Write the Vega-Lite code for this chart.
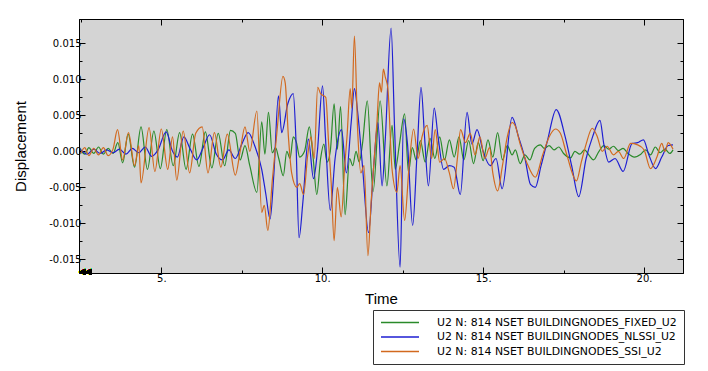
{
  "$schema": "https://vega.github.io/schema/vega-lite/v6.json",
  "width": 604,
  "height": 254,
  "autosize": {"type": "none"},
  "padding": {"left": 79, "top": 19, "right": 25, "bottom": 98},
  "background": "white",
  "config": {
    "view": {"fill": "#d4d4d4", "stroke": "black", "strokeWidth": 1},
    "axis": {
      "domainColor": "black", "tickColor": "black", "tickWidth": 1, "grid": false,
      "labelFont": "DejaVu Sans", "labelFontSize": 10, "labelColor": "black",
      "titleFont": "Liberation Sans", "titleFontSize": 15, "titleFontWeight": "normal", "titleColor": "black",
      "labelFlush": false, "labelOverlap": false
    }
  },
  "data": {"values": [
{"s":"F","t":2.5,"v":0.0002},{"s":"F","t":2.62,"v":-0.0004},{"s":"F","t":2.75,"v":0.0005},{"s":"F","t":2.9,"v":-0.0003},{"s":"F","t":3.05,"v":0.0006},{"s":"F","t":3.2,"v":-0.0004},{"s":"F","t":3.35,"v":0.0004},{"s":"F","t":3.5,"v":-0.0003},{"s":"F","t":3.65,"v":0.0012},{"s":"F","t":3.8,"v":-0.0016},{"s":"F","t":3.97,"v":0.0024},{"s":"F","t":4.17,"v":-0.0022},{"s":"F","t":4.37,"v":0.0034},{"s":"F","t":4.57,"v":-0.0025},{"s":"F","t":4.77,"v":0.0028},{"s":"F","t":4.97,"v":-0.0024},{"s":"F","t":5.17,"v":0.003},{"s":"F","t":5.37,"v":-0.002},{"s":"F","t":5.57,"v":0.0026},{"s":"F","t":5.77,"v":-0.0025},{"s":"F","t":5.97,"v":0.0024},{"s":"F","t":6.17,"v":-0.0021},{"s":"F","t":6.37,"v":0.0027},{"s":"F","t":6.57,"v":-0.0023},{"s":"F","t":6.77,"v":0.0025},{"s":"F","t":6.97,"v":-0.002},{"s":"F","t":7.15,"v":0.0029},{"s":"F","t":7.3,"v":0.0025},{"s":"F","t":7.45,"v":-0.0012},{"s":"F","t":7.6,"v":0.0008},{"s":"F","t":7.75,"v":-0.002},{"s":"F","t":7.97,"v":-0.0057},{"s":"F","t":8.12,"v":0.0041},{"s":"F","t":8.22,"v":-0.0004},{"s":"F","t":8.33,"v":0.0054},{"s":"F","t":8.45,"v":-0.0002},{"s":"F","t":8.55,"v":0.0005},{"s":"F","t":8.65,"v":-0.001},{"s":"F","t":8.79,"v":-0.0034},{"s":"F","t":8.9,"v":0.0},{"s":"F","t":9.0,"v":-0.001},{"s":"F","t":9.1,"v":0.002},{"s":"F","t":9.2,"v":0.0012},{"s":"F","t":9.3,"v":-0.0008},{"s":"F","t":9.45,"v":0.0},{"s":"F","t":9.6,"v":0.0034},{"s":"F","t":9.72,"v":-0.001},{"s":"F","t":9.83,"v":-0.006},{"s":"F","t":9.95,"v":-0.001},{"s":"F","t":10.05,"v":0.001},{"s":"F","t":10.15,"v":-0.0015},{"s":"F","t":10.25,"v":0.0},{"s":"F","t":10.37,"v":0.0066},{"s":"F","t":10.47,"v":0.0003},{"s":"F","t":10.57,"v":0.0062},{"s":"F","t":10.71,"v":-0.0088},{"s":"F","t":10.85,"v":-0.001},{"s":"F","t":10.95,"v":-0.002},{"s":"F","t":11.05,"v":0.0},{"s":"F","t":11.15,"v":-0.0015},{"s":"F","t":11.25,"v":0.001},{"s":"F","t":11.4,"v":0.007},{"s":"F","t":11.58,"v":-0.0056},{"s":"F","t":11.8,"v":0.007},{"s":"F","t":12.01,"v":-0.0048},{"s":"F","t":12.17,"v":0.0036},{"s":"F","t":12.27,"v":-0.0025},{"s":"F","t":12.4,"v":0.001},{"s":"F","t":12.56,"v":0.0052},{"s":"F","t":12.68,"v":-0.0029},{"s":"F","t":12.8,"v":0.0005},{"s":"F","t":12.92,"v":-0.0012},{"s":"F","t":13.05,"v":0.0015},{"s":"F","t":13.2,"v":-0.0015},{"s":"F","t":13.35,"v":0.0018},{"s":"F","t":13.5,"v":-0.001},{"s":"F","t":13.65,"v":0.002},{"s":"F","t":13.8,"v":-0.0012},{"s":"F","t":13.95,"v":0.0016},{"s":"F","t":14.1,"v":-0.0008},{"s":"F","t":14.25,"v":0.002},{"s":"F","t":14.4,"v":-0.0012},{"s":"F","t":14.55,"v":0.0015},{"s":"F","t":14.7,"v":-0.0017},{"s":"F","t":14.85,"v":0.0012},{"s":"F","t":15.0,"v":-0.0013},{"s":"F","t":15.15,"v":0.0016},{"s":"F","t":15.3,"v":-0.0008},{"s":"F","t":15.45,"v":0.0026},{"s":"F","t":15.6,"v":-0.0012},{"s":"F","t":15.75,"v":0.0008},{"s":"F","t":15.9,"v":-0.0005},{"s":"F","t":16.0,"v":0.0002},{"s":"F","t":16.15,"v":-0.0017},{"s":"F","t":16.3,"v":-0.0005},{"s":"F","t":16.45,"v":-0.0012},{"s":"F","t":16.6,"v":0.0004},{"s":"F","t":16.78,"v":0.0009},{"s":"F","t":16.9,"v":0.0004},{"s":"F","t":17.05,"v":0.0008},{"s":"F","t":17.2,"v":0.0002},{"s":"F","t":17.35,"v":0.0006},{"s":"F","t":17.5,"v":-0.0003},{"s":"F","t":17.72,"v":-0.0009},{"s":"F","t":17.85,"v":0.0},{"s":"F","t":18.0,"v":-0.0004},{"s":"F","t":18.15,"v":0.0002},{"s":"F","t":18.3,"v":-0.0006},{"s":"F","t":18.43,"v":-0.0012},{"s":"F","t":18.6,"v":0.0},{"s":"F","t":18.75,"v":0.0008},{"s":"F","t":18.9,"v":0.0003},{"s":"F","t":19.05,"v":0.0007},{"s":"F","t":19.2,"v":0.0001},{"s":"F","t":19.35,"v":0.0004},{"s":"F","t":19.5,"v":-0.0003},{"s":"F","t":19.7,"v":-0.0008},{"s":"F","t":19.9,"v":-0.0004},{"s":"F","t":20.05,"v":0.0002},{"s":"F","t":20.2,"v":-0.0005},{"s":"F","t":20.35,"v":0.0006},{"s":"F","t":20.5,"v":-0.0002},{"s":"F","t":20.65,"v":0.0003},{"s":"F","t":20.8,"v":-0.0003},{"s":"F","t":20.9,"v":0.0002},
{"s":"N","t":2.5,"v":0.0002},{"s":"N","t":2.7,"v":-0.0004},{"s":"N","t":2.9,"v":0.0003},{"s":"N","t":3.1,"v":-0.0003},{"s":"N","t":3.3,"v":0.0002},{"s":"N","t":3.5,"v":-0.0002},{"s":"N","t":3.7,"v":0.0003},{"s":"N","t":3.9,"v":-0.0004},{"s":"N","t":4.1,"v":0.0004},{"s":"N","t":4.3,"v":-0.0002},{"s":"N","t":4.5,"v":0.0006},{"s":"N","t":4.7,"v":-0.0007},{"s":"N","t":4.9,"v":0.0002},{"s":"N","t":5.15,"v":0.0027},{"s":"N","t":5.35,"v":0.0},{"s":"N","t":5.5,"v":-0.0008},{"s":"N","t":5.7,"v":0.002},{"s":"N","t":5.9,"v":0.0003},{"s":"N","t":6.1,"v":-0.0012},{"s":"N","t":6.3,"v":0.0005},{"s":"N","t":6.5,"v":0.0023},{"s":"N","t":6.7,"v":-0.0003},{"s":"N","t":6.9,"v":-0.0012},{"s":"N","t":7.1,"v":0.0002},{"s":"N","t":7.3,"v":-0.001},{"s":"N","t":7.5,"v":0.001},{"s":"N","t":7.7,"v":0.0026},{"s":"N","t":7.9,"v":0.0008},{"s":"N","t":8.12,"v":-0.0025},{"s":"N","t":8.25,"v":-0.006},{"s":"N","t":8.38,"v":-0.0094},{"s":"N","t":8.5,"v":-0.003},{"s":"N","t":8.64,"v":0.0077},{"s":"N","t":8.74,"v":0.0026},{"s":"N","t":8.93,"v":0.0066},{"s":"N","t":9.1,"v":0.008},{"s":"N","t":9.18,"v":0.002},{"s":"N","t":9.28,"v":-0.012},{"s":"N","t":9.4,"v":-0.007},{"s":"N","t":9.57,"v":0.0017},{"s":"N","t":9.73,"v":-0.0038},{"s":"N","t":9.85,"v":0.0},{"s":"N","t":10.01,"v":0.0091},{"s":"N","t":10.1,"v":0.002},{"s":"N","t":10.25,"v":-0.0082},{"s":"N","t":10.4,"v":-0.001},{"s":"N","t":10.6,"v":0.003},{"s":"N","t":10.75,"v":-0.003},{"s":"N","t":10.9,"v":0.004},{"s":"N","t":11.0,"v":0.0087},{"s":"N","t":11.1,"v":0.0055},{"s":"N","t":11.25,"v":-0.002},{"s":"N","t":11.44,"v":-0.0113},{"s":"N","t":11.6,"v":-0.002},{"s":"N","t":11.73,"v":0.004},{"s":"N","t":11.86,"v":-0.0048},{"s":"N","t":11.96,"v":0.0017},{"s":"N","t":12.14,"v":0.0171},{"s":"N","t":12.25,"v":0.003},{"s":"N","t":12.42,"v":-0.0161},{"s":"N","t":12.53,"v":0.0045},{"s":"N","t":12.65,"v":0.001},{"s":"N","t":12.81,"v":-0.0103},{"s":"N","t":12.95,"v":0.0},{"s":"N","t":13.07,"v":0.0089},{"s":"N","t":13.18,"v":0.002},{"s":"N","t":13.3,"v":-0.0048},{"s":"N","t":13.48,"v":0.006},{"s":"N","t":13.6,"v":0.002},{"s":"N","t":13.77,"v":-0.0025},{"s":"N","t":13.95,"v":-0.002},{"s":"N","t":14.1,"v":-0.0022},{"s":"N","t":14.29,"v":-0.006},{"s":"N","t":14.5,"v":0.0054},{"s":"N","t":14.65,"v":0.001},{"s":"N","t":14.81,"v":0.003},{"s":"N","t":15.0,"v":0.0},{"s":"N","t":15.22,"v":-0.002},{"s":"N","t":15.4,"v":-0.001},{"s":"N","t":15.59,"v":-0.0052},{"s":"N","t":15.9,"v":0.0047},{"s":"N","t":16.1,"v":0.002},{"s":"N","t":16.3,"v":-0.001},{"s":"N","t":16.47,"v":-0.0046},{"s":"N","t":16.62,"v":-0.005},{"s":"N","t":16.8,"v":-0.002},{"s":"N","t":17.0,"v":0.0015},{"s":"N","t":17.27,"v":0.0058},{"s":"N","t":17.55,"v":0.002},{"s":"N","t":17.75,"v":-0.002},{"s":"N","t":17.97,"v":-0.0063},{"s":"N","t":18.2,"v":-0.001},{"s":"N","t":18.4,"v":0.002},{"s":"N","t":18.63,"v":0.0043},{"s":"N","t":18.75,"v":0.001},{"s":"N","t":18.9,"v":-0.0015},{"s":"N","t":19.1,"v":-0.001},{"s":"N","t":19.35,"v":-0.0028},{"s":"N","t":19.63,"v":0.0011},{"s":"N","t":19.8,"v":0.0012},{"s":"N","t":19.98,"v":0.0016},{"s":"N","t":20.15,"v":-0.0005},{"s":"N","t":20.36,"v":-0.0024},{"s":"N","t":20.55,"v":-0.0008},{"s":"N","t":20.75,"v":0.0008},{"s":"N","t":20.9,"v":0.0009},
{"s":"S","t":2.5,"v":-0.0003},{"s":"S","t":2.62,"v":0.0005},{"s":"S","t":2.75,"v":-0.0006},{"s":"S","t":2.9,"v":0.0004},{"s":"S","t":3.05,"v":-0.0005},{"s":"S","t":3.2,"v":0.0005},{"s":"S","t":3.35,"v":-0.0006},{"s":"S","t":3.5,"v":0.0003},{"s":"S","t":3.64,"v":0.003},{"s":"S","t":3.8,"v":-0.0012},{"s":"S","t":3.98,"v":0.0026},{"s":"S","t":4.17,"v":-0.002},{"s":"S","t":4.3,"v":0.0008},{"s":"S","t":4.37,"v":-0.0044},{"s":"S","t":4.62,"v":0.0033},{"s":"S","t":4.8,"v":-0.0028},{"s":"S","t":5.0,"v":0.0031},{"s":"S","t":5.2,"v":-0.0025},{"s":"S","t":5.35,"v":0.002},{"s":"S","t":5.48,"v":-0.004},{"s":"S","t":5.68,"v":0.0028},{"s":"S","t":5.88,"v":-0.003},{"s":"S","t":6.07,"v":0.0025},{"s":"S","t":6.27,"v":0.0034},{"s":"S","t":6.45,"v":-0.003},{"s":"S","t":6.65,"v":0.0026},{"s":"S","t":6.85,"v":-0.0022},{"s":"S","t":7.05,"v":0.0024},{"s":"S","t":7.3,"v":-0.0033},{"s":"S","t":7.45,"v":0.0},{"s":"S","t":7.6,"v":0.0034},{"s":"S","t":7.75,"v":0.0},{"s":"S","t":7.97,"v":0.0056},{"s":"S","t":8.12,"v":-0.0085},{"s":"S","t":8.2,"v":-0.0075},{"s":"S","t":8.31,"v":-0.011},{"s":"S","t":8.45,"v":-0.004},{"s":"S","t":8.6,"v":0.003},{"s":"S","t":8.78,"v":0.0104},{"s":"S","t":8.85,"v":0.0095},{"s":"S","t":8.95,"v":0.002},{"s":"S","t":9.05,"v":-0.003},{"s":"S","t":9.21,"v":-0.005},{"s":"S","t":9.3,"v":-0.0045},{"s":"S","t":9.42,"v":-0.006},{"s":"S","t":9.55,"v":-0.0005},{"s":"S","t":9.65,"v":0.002},{"s":"S","t":9.75,"v":-0.001},{"s":"S","t":9.86,"v":0.0089},{"s":"S","t":9.95,"v":0.008},{"s":"S","t":10.11,"v":0.0075},{"s":"S","t":10.2,"v":0.001},{"s":"S","t":10.28,"v":-0.0045},{"s":"S","t":10.37,"v":-0.0124},{"s":"S","t":10.47,"v":-0.005},{"s":"S","t":10.59,"v":-0.0091},{"s":"S","t":10.7,"v":-0.002},{"s":"S","t":10.77,"v":0.002},{"s":"S","t":10.87,"v":0.0087},{"s":"S","t":10.92,"v":0.006},{"s":"S","t":11.0,"v":0.016},{"s":"S","t":11.1,"v":0.003},{"s":"S","t":11.2,"v":-0.003},{"s":"S","t":11.3,"v":-0.002},{"s":"S","t":11.42,"v":-0.0145},{"s":"S","t":11.52,"v":-0.007},{"s":"S","t":11.6,"v":-0.002},{"s":"S","t":11.7,"v":0.004},{"s":"S","t":11.78,"v":0.0095},{"s":"S","t":11.84,"v":0.0082},{"s":"S","t":11.9,"v":0.0114},{"s":"S","t":11.96,"v":0.0103},{"s":"S","t":12.04,"v":0.0087},{"s":"S","t":12.17,"v":-0.0025},{"s":"S","t":12.32,"v":-0.0057},{"s":"S","t":12.42,"v":-0.002},{"s":"S","t":12.56,"v":-0.0096},{"s":"S","t":12.7,"v":-0.002},{"s":"S","t":12.84,"v":0.0031},{"s":"S","t":12.98,"v":-0.001},{"s":"S","t":13.1,"v":0.002},{"s":"S","t":13.26,"v":0.0036},{"s":"S","t":13.4,"v":-0.001},{"s":"S","t":13.51,"v":0.003},{"s":"S","t":13.65,"v":-0.0015},{"s":"S","t":13.8,"v":-0.001},{"s":"S","t":13.95,"v":-0.003},{"s":"S","t":14.08,"v":-0.0052},{"s":"S","t":14.2,"v":-0.001},{"s":"S","t":14.3,"v":0.003},{"s":"S","t":14.45,"v":0.0012},{"s":"S","t":14.6,"v":0.0025},{"s":"S","t":14.75,"v":-0.0005},{"s":"S","t":14.9,"v":0.002},{"s":"S","t":15.05,"v":-0.001},{"s":"S","t":15.2,"v":0.0005},{"s":"S","t":15.3,"v":-0.003},{"s":"S","t":15.45,"v":-0.0055},{"s":"S","t":15.6,"v":-0.002},{"s":"S","t":15.75,"v":0.002},{"s":"S","t":15.9,"v":0.004},{"s":"S","t":16.0,"v":0.0035},{"s":"S","t":16.15,"v":0.001},{"s":"S","t":16.35,"v":-0.0015},{"s":"S","t":16.62,"v":-0.0036},{"s":"S","t":16.85,"v":-0.0005},{"s":"S","t":17.05,"v":0.002},{"s":"S","t":17.25,"v":0.0031},{"s":"S","t":17.4,"v":0.0025},{"s":"S","t":17.6,"v":-0.0005},{"s":"S","t":17.9,"v":-0.0041},{"s":"S","t":18.05,"v":-0.0015},{"s":"S","t":18.2,"v":0.001},{"s":"S","t":18.39,"v":0.0032},{"s":"S","t":18.55,"v":0.002},{"s":"S","t":18.7,"v":0.0},{"s":"S","t":18.85,"v":0.0007},{"s":"S","t":19.05,"v":-0.0005},{"s":"S","t":19.2,"v":0.0},{"s":"S","t":19.37,"v":-0.001},{"s":"S","t":19.58,"v":0.0011},{"s":"S","t":19.8,"v":0.0009},{"s":"S","t":20.0,"v":0.0002},{"s":"S","t":20.2,"v":-0.0024},{"s":"S","t":20.4,"v":-0.0008},{"s":"S","t":20.55,"v":0.0011},{"s":"S","t":20.65,"v":0.0},{"s":"S","t":20.75,"v":0.0012},{"s":"S","t":20.9,"v":0.0003}
  ]},
  "resolve": {"axis": {"x": "independent", "y": "independent"}},
  "layer": [
    {
      "mark": {"type": "line", "strokeWidth": 1.2, "clip": true, "interpolate": "monotone"},
      "encoding": {
        "x": {"field": "t", "type": "quantitative",
          "scale": {"domain": [2.443, 21.21], "nice": false, "zero": false},
          "axis": {"orient": "bottom", "values": [2.5, 5, 7.5, 10, 12.5, 15, 17.5, 20],
            "labelExpr": "datum.value % 5 == 0 ? datum.value + '.' : ''",
            "tickSize": {"condition": {"test": "datum.value % 5 == 0", "value": -6}, "value": -3},
            "labelPadding": 6, "title": "Time", "titlePadding": 5}},
        "y": {"field": "v", "type": "quantitative",
          "scale": {"domain": [-0.0169, 0.018375], "nice": false, "zero": false},
          "axis": {"orient": "left",
            "values": [-0.015, -0.0125, -0.01, -0.0075, -0.005, -0.0025, 0, 0.0025, 0.005, 0.0075, 0.01, 0.0125, 0.015],
            "labelExpr": "round(datum.value*400) % 2 == 0 ? (datum.value < -0.0001 ? '-' : '') + format(abs(datum.value), '.3f') : ''",
            "tickSize": {"condition": {"test": "round(datum.value*400) % 2 == 0", "value": -6}, "value": -3},
            "labelPadding": 4, "title": "Displacement", "titlePadding": 20}},
        "color": {"field": "s", "type": "nominal",
          "scale": {"domain": ["F", "N", "S"], "range": ["#2a8a2a", "#1e1ed2", "#d2691e"]},
          "legend": {"orient": "none", "legendX": 294, "legendY": 291, "title": null,
            "labelExpr": "datum.label == 'F' ? 'U2 N: 814 NSET BUILDINGNODES_FIXED_U2' : datum.label == 'N' ? 'U2 N: 814 NSET BUILDINGNODES_NLSSI_U2' : 'U2 N: 814 NSET BUILDINGNODES_SSI_U2'",
            "symbolType": "stroke", "symbolSize": 1444, "symbolStrokeWidth": 1.5,
            "labelFont": "DejaVu Sans", "labelFontSize": 10.9, "labelColor": "black", "labelOffset": 17, "labelLimit": 0,
            "clipHeight": 11, "rowPadding": 2.5, "padding": 7,
            "strokeColor": "#333333", "fillColor": "white", "cornerRadius": 0}}
      }
    },
    {
      "mark": {"type": "text", "text": "◀◀", "fontSize": 8, "align": "left", "baseline": "middle", "color": "black", "dx": 0},
      "encoding": {
        "x": {"datum": 2.443, "type": "quantitative",
          "axis": {"orient": "top", "values": [2.5, 5, 7.5, 10, 12.5, 15, 17.5, 20], "labels": false, "title": null,
            "tickSize": {"condition": {"test": "datum.value % 5 == 0", "value": -6}, "value": -3}}},
        "y": {"datum": -0.0168, "type": "quantitative",
          "axis": {"orient": "right",
            "values": [-0.015, -0.0125, -0.01, -0.0075, -0.005, -0.0025, 0, 0.0025, 0.005, 0.0075, 0.01, 0.0125, 0.015],
            "labels": false, "title": null,
            "tickSize": {"condition": {"test": "round(datum.value*400) % 2 == 0", "value": -6}, "value": -3}}}
      }
    }
  ]
}
